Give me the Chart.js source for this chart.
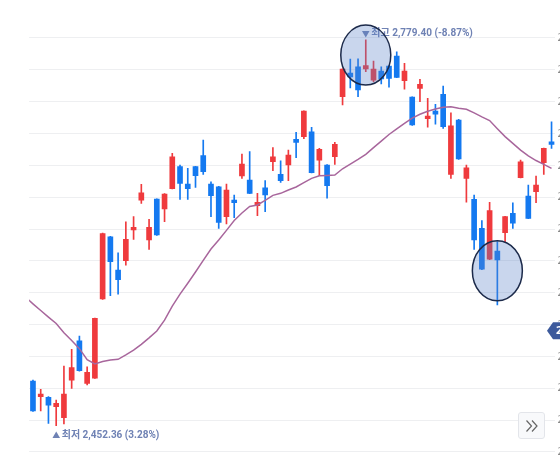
<!DOCTYPE html>
<html>
<head>
<meta charset="utf-8">
<script src="https://cdn.jsdelivr.net/npm/chart.js@4"></script>
<style>
  html, body { margin: 0; padding: 0; background: #fff; overflow: hidden; }
  #wrap { position: relative; width: 560px; height: 462px; }
  #more { position: absolute; left: 518px; top: 412px; width: 25px; height: 25px;
          border: 1px solid #e3e5ea; border-radius: 3px; background: #f8f9fb; }
  #more svg { display: block; }
</style>
</head>
<body>
<div id="wrap">
  <canvas id="myChart" width="560" height="462"></canvas>
  <div id="more"><svg width="25" height="25" viewBox="0 0 25 25"><path d="M7.5 7.5 L12.5 13 L7.5 18.5 M13 7.5 L18 13 L13 18.5" fill="none" stroke="#666" stroke-width="1.2"/></svg></div>
</div>
<script>
// one slot before and after the visible window (only the moving average has values there)
const days = ['d00','d01','d02','d03','d04','d05','d06','d07','d08','d09',
  'd10','d11','d12','d13','d14','d15','d16','d17','d18','d19',
  'd20','d21','d22','d23','d24','d25','d26','d27','d28','d29',
  'd30','d31','d32','d33','d34','d35','d36','d37','d38','d39',
  'd40','d41','d42','d43','d44','d45','d46','d47','d48','d49',
  'd50','d51','d52','d53','d54','d55','d56','d57','d58','d59',
  'd60','d61','d62','d63','d64','d65','d66','d67','d68','d69'];

const openP = [2490.2, 2476.9, 2476.4, 2468.4, 2459.1, 2491.0, 2524.3, 2488.2, 2492.5, 2559.7,
  2612.5, 2584.3, 2592.2, 2618.2, 2643.6, 2609.7, 2644.5, 2636.0, 2653.2, 2671.9,
  2657.2, 2671.9, 2681.2, 2657.2, 2654.9, 2629.5, 2643.6, 2664.0, 2660.6, 2638.8,
  2654.0, 2676.1, 2665.4, 2673.3, 2695.1, 2697.3, 2701.5, 2677.5, 2673.3, 2680.3,
  2731.2, 2751.3, 2756.6, 2754.7, 2745.3, 2753.0, 2757.2, 2765.7, 2744.8, 2730.9,
  2738.3, 2712.5, 2719.1, 2733.2, 2665.4, 2711.4, 2662.0, 2644.2, 2619.6, 2593.4,
  2600.4, 2615.9, 2632.3, 2662.5, 2647.0, 2650.7, 2675.2, 2693.0];
const highP = [2491.0, 2483.2, 2476.9, 2474.1, 2502.9, 2517.1, 2528.3, 2502.3, 2543.6, 2615.6,
  2612.8, 2598.9, 2625.2, 2629.5, 2656.9, 2627.3, 2644.7, 2649.0, 2683.2, 2673.3,
  2670.5, 2672.2, 2694.5, 2659.1, 2655.2, 2657.2, 2647.9, 2682.6, 2684.6, 2649.3,
  2660.0, 2688.0, 2676.9, 2686.0, 2701.0, 2719.3, 2705.3, 2687.4, 2673.6, 2692.5,
  2754.9, 2763.1, 2763.4, 2779.40, 2761.5, 2756.6, 2757.5, 2769.3, 2759.5, 2731.2,
  2745.9, 2729.8, 2724.7, 2740.3, 2717.6, 2712.0, 2673.3, 2647.9, 2626.1, 2641.7,
  2608.3, 2629.8, 2641.3, 2677.5, 2656.3, 2664.0, 2687.7, 2710.0];
const lowP = [2464.3, 2464.8, 2454.3, 2452.36, 2453.7, 2484.0, 2498.6, 2486.8, 2492.3, 2559.4,
  2562.5, 2563.9, 2588.3, 2610.3, 2640.8, 2601.8, 2613.7, 2625.2, 2653.0, 2644.2,
  2644.2, 2654.4, 2665.4, 2629.5, 2619.6, 2623.3, 2628.6, 2662.0, 2649.0, 2630.3,
  2633.7, 2668.5, 2658.6, 2660.0, 2679.5, 2695.6, 2666.5, 2664.2, 2645.1, 2673.9,
  2724.2, 2738.6, 2731.2, 2752.4, 2743.9, 2742.0, 2739.2, 2747.4, 2737.5, 2706.9,
  2727.0, 2705.3, 2708.0, 2704.4, 2662.0, 2678.1, 2641.7, 2601.8, 2584.6, 2593.1,
  2554.6, 2608.3, 2619.6, 2662.3, 2627.9, 2641.3, 2665.4, 2687.4];
const closeP = [2464.8, 2479.2, 2469.8, 2471.3, 2479.2, 2501.5, 2498.9, 2497.6, 2543.3, 2615.1,
  2591.3, 2576.1, 2610.3, 2620.5, 2649.8, 2620.5, 2614.0, 2648.7, 2680.3, 2657.8,
  2653.2, 2664.2, 2667.6, 2647.3, 2624.7, 2652.1, 2641.3, 2674.1, 2649.3, 2641.7,
  2647.9, 2680.3, 2660.0, 2681.8, 2692.5, 2719.1, 2666.8, 2686.6, 2655.7, 2690.8,
  2754.7, 2747.9, 2736.9, 2757.5, 2754.7, 2746.2, 2746.8, 2747.6, 2753.0, 2707.2,
  2741.7, 2714.8, 2716.5, 2705.8, 2706.6, 2678.4, 2671.0, 2609.7, 2584.9, 2634.6,
  2592.8, 2629.5, 2623.9, 2676.1, 2628.1, 2656.3, 2687.4, 2690.8];

// moving average, 70 slots (incl. one off-screen on each side)
const ma = [2561.4,
  2555.6, 2550.0, 2544.4, 2538.9, 2531.1, 2524.6, 2517.6, 2508.3, 2504.6, 2506.7,
  2508.0, 2508.6, 2512.3, 2516.3, 2521.3, 2526.8, 2532.6, 2541.8, 2553.7, 2563.9,
  2573.1, 2582.6, 2592.5, 2602.1, 2609.7, 2617.9, 2626.2, 2632.6, 2638.1, 2639.4,
  2643.3, 2647.6, 2649.3, 2652.1, 2654.7, 2658.3, 2662.0, 2664.1, 2664.4, 2664.8,
  2670.1, 2674.1, 2678.1, 2682.4, 2688.1, 2693.6, 2699.2, 2704.0, 2708.6, 2713.1,
  2716.3, 2718.9, 2720.8, 2722.3, 2722.7, 2721.4, 2720.6, 2717.5, 2714.1, 2711.0,
  2704.1, 2697.4, 2691.6, 2685.9, 2681.0, 2677.1, 2673.8, 2670.5,
  2667.4];

const yTicks = [2430, 2457, 2484, 2511, 2538, 2565, 2592, 2619, 2646, 2673, 2700, 2727, 2754, 2781];

const highIdx = 43, lowIdx = 3;
const highText = '최고 2,779.40 (-8.87%)';
const lowText = '최저 2,452.36 (3.28%)';
const lastPrice = 2532.84;

const UP = '#ef3a3d', DOWN = '#1479f0';
const LABEL_FONT = 'bold 10px Roboto, "Noto Sans CJK KR", sans-serif';

const candleColors = [null];
const wicks = [null];
const bodies = [null];
for (let i = 0; i < openP.length; i++) {
    candleColors.push(closeP[i] >= openP[i] ? UP : DOWN);
    wicks.push([lowP[i], highP[i]]);
    bodies.push([openP[i], closeP[i]]);
}
candleColors.push(null); wicks.push(null); bodies.push(null);

const marks = {
    id: 'marks',
    afterDatasetsDraw(chart) {
        const {ctx, scales: {x, y}} = chart;
        ctx.save();
        ctx.fillStyle = '#6f82b4';
        ctx.textBaseline = 'middle';
        // high label
        let cx = x.getPixelForValue(highIdx + 1);
        let cy = y.getPixelForValue(highP[highIdx]) - 6;
        ctx.font = '8px "Noto Sans CJK KR", sans-serif';
        ctx.textAlign = 'center';
        ctx.fillText('▼', cx, cy);
        ctx.font = LABEL_FONT;
        ctx.textAlign = 'left';
        ctx.fillText(highText, cx + 5.5, cy);
        // low label
        cx = x.getPixelForValue(lowIdx + 1);
        cy = y.getPixelForValue(lowP[lowIdx]) + 9.5;
        ctx.font = '8px "Noto Sans CJK KR", sans-serif';
        ctx.textAlign = 'center';
        ctx.fillText('▲', cx, cy);
        ctx.font = LABEL_FONT;
        ctx.textAlign = 'left';
        ctx.fillText(lowText, cx + 5.5, cy);

        // highlight circles
        [[highIdx, 2766.5], [60, 2583.7]].forEach(([i, v]) => {
            ctx.beginPath();
            ctx.ellipse(x.getPixelForValue(i + 1), y.getPixelForValue(v), 25, 30, 0, 0, Math.PI * 2);
            ctx.fillStyle = 'rgba(90,130,200,0.33)';
            ctx.fill();
            ctx.lineWidth = 1.5;
            ctx.strokeStyle = '#1c2a4a';
            ctx.stroke();
        });

        // current price tag (cut by the edge)
        const ty = y.getPixelForValue(lastPrice);
        ctx.beginPath();
        ctx.moveTo(547, ty);
        ctx.lineTo(553, ty - 8.5);
        ctx.lineTo(620, ty - 8.5);
        ctx.lineTo(620, ty + 8.5);
        ctx.lineTo(553, ty + 8.5);
        ctx.closePath();
        ctx.fillStyle = '#3d5a9c';
        ctx.fill();
        ctx.fillStyle = '#fff';
        ctx.font = 'bold 11px "Noto Sans", sans-serif';
        ctx.fillText('2,532.84', 556, ty);
        ctx.restore();
    }
};

const theChart = new Chart(document.getElementById('myChart'), {
    type: 'bar',
    data: {
        labels: days,
        datasets: [{
            type: 'line',
            label: '이동평균',
            data: ma,
            borderColor: '#a8669c',
            borderWidth: 1.5,
            pointRadius: 0,
            tension: 0,
            order: 0
        },
        {
            label: '몸통',
            data: bodies,
            backgroundColor: candleColors,
            barThickness: 5,
            grouped: false,
            order: 1
        },
        {
            label: '꼬리',
            data: wicks,
            backgroundColor: candleColors,
            barThickness: 1,
            grouped: false,
            order: 2
        }]
    },
    options: {
        responsive: false,
        animation: false,
        layout: { padding: { left: 29.1, right: 0, top: 0, bottom: 0 } },
        plugins: { legend: { display: false }, tooltip: { enabled: false } },
        scales: {
            x: { display: false, min: 1, max: 68, offset: true },
            y: {
                position: 'right',
                min: 2421.52,
                max: 2813.2,
                border: { display: false },
                grid: { color: '#eeeff1', drawTicks: false },
                ticks: {
                    padding: 2,
                    color: '#888',
                    font: { size: 11, family: 'Noto Sans' },
                    callback: v => v.toLocaleString('en-US', { minimumFractionDigits: 2, maximumFractionDigits: 2 })
                },
                afterBuildTicks: s => { s.ticks = yTicks.map(v => ({ value: v })); },
                afterFit: s => { s.width = 4.6; s.paddingTop = 0; s.paddingBottom = 0; }
            }
        }
    },
    plugins: [marks]
});
</script>
</body>
</html>
